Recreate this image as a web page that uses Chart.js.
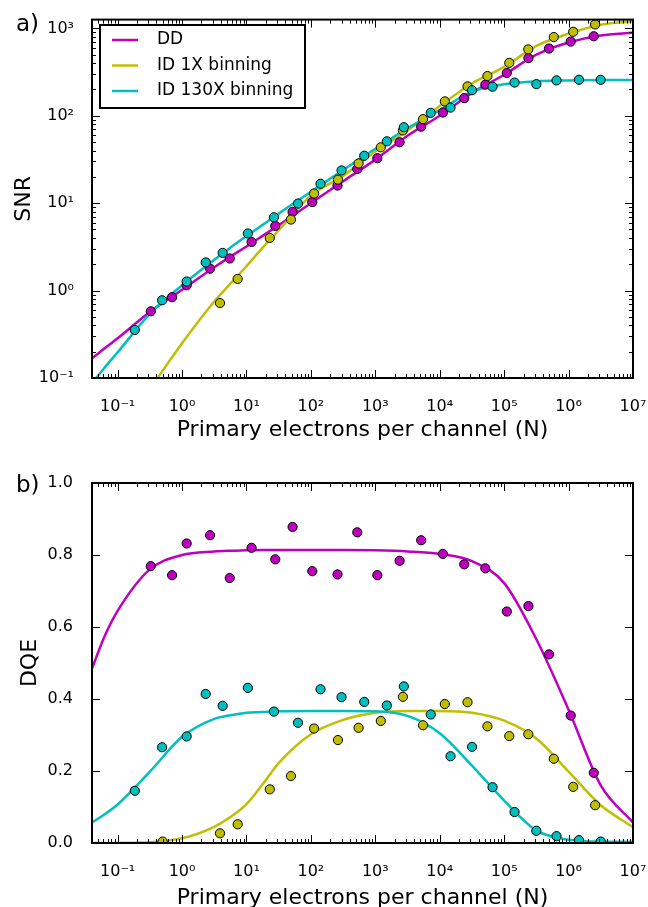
<!DOCTYPE html>
<html>
<head>
<meta charset="utf-8">
<script src="https://cdn.jsdelivr.net/npm/chart.js@4.4.1/dist/chart.umd.min.js"></script>
<style>
  html, body { margin: 0; padding: 0; background: #fff; }
  #wrap { position: relative; width: 648px; height: 907px; overflow: hidden; }
  canvas { position: absolute; left: 0; }
  #snrChart { top: 0; }
  #dqeChart { top: 450px; }
</style>
</head>
<body>
<div id="wrap">
  <canvas id="snrChart" width="648" height="450"></canvas>
  <canvas id="dqeChart" width="648" height="457"></canvas>
</div>
<script>
const FONT = 'DejaVu Sans';
const DD_COLOR = '#bf00bf';
const ID1_COLOR = '#bfbf00';
const ID130_COLOR = '#00bfbf';

// measured points (N = primary electrons per channel)
const ddN = [0.327, 0.70, 1.18, 2.72, 5.5, 12, 28, 52, 105, 259, 525, 1075, 2380, 5150, 11200, 24000, 51000, 110000, 238000, 497000, 1.08e6, 2.46e6];
const ddSnr = [0.58, 0.84, 1.15, 1.78, 2.33, 3.6, 5.5, 7.95, 10.3, 15.9, 24.6, 32.7, 49.8, 75, 109, 159, 227, 309, 457, 588, 707, 813];
const ddDqe = [0.769, 0.744, 0.832, 0.855, 0.736, 0.82, 0.788, 0.878, 0.755, 0.746, 0.863, 0.744, 0.784, 0.841, 0.803, 0.774, 0.763, 0.643, 0.658, 0.524, 0.354, 0.195];

const id1N = [0.5, 3.88, 7.3, 23, 49, 112, 263, 550, 1217, 2680, 5500, 12000, 27000, 55000, 120000, 237000, 590000, 1.18e6, 2.58e6];
const id1Snr = [null, 0.72, 1.36, 4.0, 6.5, 12.9, 18.6, 28.5, 43.6, 68, 91.5, 146, 217, 285, 403, 575, 795, 913, 1110];
const id1Dqe = [0.004, 0.027, 0.052, 0.149, 0.186, 0.318, 0.286, 0.32, 0.339, 0.406, 0.327, 0.386, 0.391, 0.324, 0.297, 0.302, 0.234, 0.156, 0.105];

const id130N = [0.185, 0.49, 1.18, 2.33, 4.27, 10.5, 26.7, 63, 141, 299, 673, 1510, 2770, 7250, 14700, 31700, 66000, 145000, 316000, 650000, 1.45e6, 3.15e6];
const id130Snr = [0.354, 0.775, 1.27, 2.1, 2.7, 4.5, 6.9, 9.9, 16.7, 23.7, 34.9, 51, 74, 108, 124, 196, 215, 240, 230, 254, 258, 258];
const id130Dqe = [0.145, 0.266, 0.296, 0.414, 0.381, 0.431, 0.365, 0.334, 0.427, 0.405, 0.392, 0.382, 0.435, 0.357, 0.241, 0.267, 0.155, 0.086, 0.034, 0.019, 0.008, 0.004];

// model curves
const fitN = [0.04, 0.063, 0.1, 0.316, 1, 3.16, 5.62, 10, 17.8, 31.6, 100, 316, 1000, 3160, 1e4, 3.16e4, 1e5, 3.16e5, 1e6, 3.16e6, 1e7];
const ddSnrFit = [0.167, 0.219, 0.285, 0.57, 1.02, 1.85, 2.45, 3.2, 4.23, 5.6, 10, 17.8, 31.5, 59, 100, 182, 295, 500, 690, 830, 890];
const id1SnrFit = [0.0095, 0.014, 0.024, 0.075, 0.25, 0.75, 1.2, 1.9, 3.1, 4.9, 12.2, 20.5, 39, 68, 129, 234, 363, 630, 870, 1100, 1200];
const id130SnrFit = [0.087, 0.132, 0.197, 0.54, 1.15, 2.25, 3.1, 4.2, 5.65, 7.6, 13.5, 24, 42, 72, 116, 189, 229, 248, 254, 257, 257];
const ddDqeFit = [0.485, 0.575, 0.645, 0.76, 0.80, 0.81, 0.812, 0.813, 0.814, 0.814, 0.814, 0.814, 0.813, 0.81, 0.803, 0.783, 0.722, 0.566, 0.37, 0.16, 0.057];
const id1DqeFit = [0.0, 0.0, 0.0005, 0.002, 0.013, 0.045, 0.072, 0.108, 0.163, 0.222, 0.302, 0.342, 0.362, 0.367, 0.367, 0.362, 0.34, 0.29, 0.198, 0.105, 0.044];
const id130DqeFit = [0.057, 0.08, 0.107, 0.198, 0.295, 0.345, 0.355, 0.362, 0.364, 0.366, 0.367, 0.367, 0.366, 0.353, 0.305, 0.215, 0.118, 0.035, 0.009, 0.004, 0.003];

// axis ticks
const xTickValues = [0.1, 1, 10, 100, 1e3, 1e4, 1e5, 1e6, 1e7];
const xTickLabels = ['10⁻¹', '10⁰', '10¹', '10²', '10³', '10⁴', '10⁵', '10⁶', '10⁷'];
const snrTickValues = [0.1, 1, 10, 100, 1000];
const snrTickLabels = ['10⁻¹', '10⁰', '10¹', '10²', '10³'];
const dqeTickValues = [0, 0.2, 0.4, 0.6, 0.8, 1.0];
const dqeTickLabels = ['0.0', '0.2', '0.4', '0.6', '0.8', '1.0'];

function pairs(xs, ys) {
    return xs.map((x, i) => ({ x: x, y: ys[i] })).filter(p => p.y !== null);
}

function pointSet(label, data, color) {
    return {
        label: label,
        data: data,
        showLine: false,
        pointRadius: 4.6,
        pointBackgroundColor: color,
        pointBorderColor: '#000',
        pointBorderWidth: 1,
        clip: 0,
    };
}

function curveSet(label, data, color) {
    return {
        label: label,
        data: data,
        showLine: true,
        borderColor: color,
        borderWidth: 2.5,
        pointRadius: 0,
        cubicInterpolationMode: 'monotone',
        clip: 0,
        inLegend: true,
    };
}

// inside ticks on all four sides + frame + legend + panel letter
function tickMarks(scale, log) {
    const out = [];
    if (log) {
        const lo = Math.floor(Math.log10(scale.min));
        const hi = Math.ceil(Math.log10(scale.max));
        for (let e = lo; e <= hi; e++) {
            for (let m = 1; m < 10; m++) {
                const v = m * Math.pow(10, e);
                if (v >= scale.min * 0.9999 && v <= scale.max * 1.0001) {
                    out.push({ v: v, major: m === 1 });
                }
            }
        }
    } else {
        scale.ticks.forEach(t => out.push({ v: t.value, major: true }));
    }
    return out;
}

const decor = {
    id: 'decor',
    afterDraw(chart, args, o) {
        const ctx = chart.ctx;
        const a = chart.chartArea;
        const xs = chart.scales.x;
        const ys = chart.scales.y;
        ctx.save();
        ctx.strokeStyle = '#000';
        ctx.lineWidth = 1;
        ctx.beginPath();
        tickMarks(xs, true).forEach(t => {
            const p = Math.round(xs.getPixelForValue(t.v)) + 0.5;
            const len = t.major ? 8 : 4;
            ctx.moveTo(p, a.bottom); ctx.lineTo(p, a.bottom - len);
            ctx.moveTo(p, a.top); ctx.lineTo(p, a.top + len);
        });
        tickMarks(ys, o.yLog).forEach(t => {
            const p = Math.round(ys.getPixelForValue(t.v)) + 0.5;
            const len = t.major ? 8 : 4;
            ctx.moveTo(a.left, p); ctx.lineTo(a.left + len, p);
            ctx.moveTo(a.right, p); ctx.lineTo(a.right - len, p);
        });
        ctx.stroke();
        ctx.lineWidth = 2;
        ctx.strokeRect(a.left, a.top, a.right - a.left, a.bottom - a.top);

        ctx.fillStyle = '#000';
        ctx.font = '23px "DejaVu Sans"';
        ctx.textBaseline = 'alphabetic';
        ctx.textAlign = 'left';
        ctx.fillText(o.panel, 16, o.panelY);

        if (o.legend) {
            const L = o.legend;
            ctx.fillStyle = '#fff';
            ctx.fillRect(L.x, L.y, L.w, L.h);
            ctx.lineWidth = 2;
            ctx.strokeRect(L.x, L.y, L.w, L.h);
            const items = chart.data.datasets.filter(d => d.inLegend).reverse();
            ctx.font = '17px "DejaVu Sans"';
            ctx.textBaseline = 'middle';
            items.forEach((d, i) => {
                const cy = L.y + L.first + i * L.step;
                ctx.strokeStyle = d.borderColor;
                ctx.lineWidth = 2.5;
                ctx.beginPath();
                ctx.moveTo(L.x + 12, cy);
                ctx.lineTo(L.x + 38, cy);
                ctx.stroke();
                ctx.fillStyle = '#000';
                ctx.fillText(d.label, L.x + 57, cy);
            });
        }
        ctx.restore();
    }
};

function xAxis(axisHeight, titlePad) {
    return {
        type: 'logarithmic',
        min: 0.04,
        max: 1e7,
        bounds: 'data',
        grid: { display: false },
        border: { display: false },
        afterBuildTicks: s => { s.ticks = xTickValues.map(v => ({ value: v })); },
        afterFit: s => {
            s.height = axisHeight;
            s.paddingLeft = 0;
            s.paddingRight = 0;
        },
        ticks: {
            autoSkip: false,
            maxRotation: 0,
            padding: 11,
            color: '#000',
            font: { family: FONT, size: 16 },
            callback: (v, i) => xTickLabels[i],
        },
        title: {
            display: true,
            text: 'Primary electrons per channel (N)',
            color: '#000',
            font: { family: FONT, size: 22 },
            padding: { top: 0, bottom: titlePad },
        },
    };
}

function baseOptions(scales, decorOpts, padTop) {
    return {
        responsive: false,
        animation: false,
        layout: { padding: { top: padTop, right: 15, left: 0, bottom: 0 } },
        plugins: {
            legend: { display: false },
            tooltip: { enabled: false },
            decor: decorOpts,
        },
        scales: scales,
    };
}

new Chart(document.getElementById('snrChart'), {
    type: 'scatter',
    data: {
        datasets: [
            pointSet('ID 130X binning data', pairs(id130N, id130Snr), ID130_COLOR),
            pointSet('ID 1X binning data', pairs(id1N, id1Snr), ID1_COLOR),
            pointSet('DD data', pairs(ddN, ddSnr), DD_COLOR),
            curveSet('ID 130X binning', pairs(fitN, id130SnrFit), ID130_COLOR),
            curveSet('ID 1X binning', pairs(fitN, id1SnrFit), ID1_COLOR),
            curveSet('DD', pairs(fitN, ddSnrFit), DD_COLOR),
        ],
    },
    options: baseOptions({
        x: xAxis(72, 7),
        y: {
            type: 'logarithmic',
            min: 0.1,
            max: 1260,
            bounds: 'data',
            grid: { display: false },
            border: { display: false },
            afterBuildTicks: s => { s.ticks = snrTickValues.map(v => ({ value: v })); },
            afterFit: s => { s.width = 92; },
            ticks: {
                autoSkip: false,
                padding: 10,
                color: '#000',
                font: { family: FONT, size: 16 },
                callback: (v, i) => snrTickLabels[i],
            },
            title: {
                display: true,
                text: 'SNR',
                color: '#000',
                font: { family: FONT, size: 22 },
                padding: { top: 11, bottom: 0 },
            },
        },
    }, {
        yLog: true,
        panel: 'a)',
        panelY: 31,
        legend: { x: 100, y: 25, w: 205, h: 83, first: 15, step: 25.5 },
    }, 17),
    plugins: [decor],
});

new Chart(document.getElementById('dqeChart'), {
    type: 'scatter',
    data: {
        datasets: [
            pointSet('ID 130X binning data', pairs(id130N, id130Dqe), ID130_COLOR),
            pointSet('ID 1X binning data', pairs(id1N, id1Dqe), ID1_COLOR),
            pointSet('DD data', pairs(ddN, ddDqe), DD_COLOR),
            curveSet('ID 130X binning', pairs(fitN, id130DqeFit), ID130_COLOR),
            curveSet('ID 1X binning', pairs(fitN, id1DqeFit), ID1_COLOR),
            curveSet('DD', pairs(fitN, ddDqeFit), DD_COLOR),
        ],
    },
    options: baseOptions({
        x: xAxis(64, -4),
        y: {
            type: 'linear',
            min: 0,
            max: 1,
            grid: { display: false },
            border: { display: false },
            afterBuildTicks: s => { s.ticks = dqeTickValues.map(v => ({ value: v })); },
            afterFit: s => { s.width = 92; },
            ticks: {
                autoSkip: false,
                padding: 11,
                color: '#000',
                font: { family: FONT, size: 16 },
                callback: (v, i) => dqeTickLabels[i],
            },
            title: {
                display: true,
                text: 'DQE',
                color: '#000',
                font: { family: FONT, size: 22 },
                padding: { top: 17, bottom: 0 },
            },
        },
    }, {
        yLog: false,
        panel: 'b)',
        panelY: 41.5,
        legend: null,
    }, 33),
    plugins: [decor],
});
</script>
</body>
</html>
